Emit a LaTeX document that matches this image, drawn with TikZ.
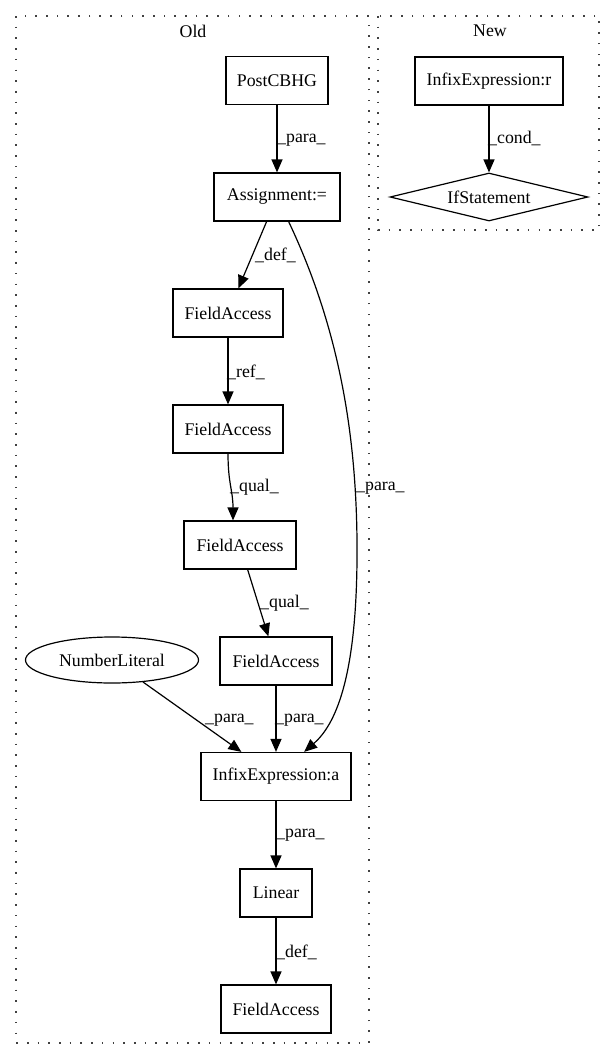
\documentclass[tikz,border=0pt]{standalone}
\usepackage{fontspec}
\setmainfont{Liberation Serif}
\usetikzlibrary{shapes.geometric,arrows.meta,calc}
\begin{document}
\begin{tikzpicture}[x=1pt,y=-1pt,
  every node/.style={font=\fontsize{17.8}{20}\selectfont},
  box/.style={draw, line width=1.2pt, inner sep=0pt, minimum height=48pt},
  ell/.style={draw, ellipse, line width=1.2pt, inner sep=0pt, minimum width=173pt, minimum height=46pt},
  dia/.style={draw, diamond, aspect=4.125, line width=1.2pt, inner sep=0pt, minimum width=198pt, minimum height=48pt},
  edge/.style={line width=1.2pt, -{Triangle[length=13pt,width=11pt]}},
  lbl/.style={anchor=west, inner sep=0pt},
  cluster/.style={line width=1.4pt, dash pattern=on 1.6pt off 9.1pt, black!75}]
\useasboundingbox (0,0) rectangle (615,1060);
% clusters
\draw[cluster] (16,16) rectangle (369,1043);
\draw[cluster] (378,16) rectangle (599,230);
\node (oldt) at (193,31) {Old};
\node (newt) at (490,31) {New};
% Old nodes
\node[box, minimum width=102pt] (post) at (277,80.5) {PostCBHG};
\node[box, minimum width=126pt] (asg) at (277,197) {Assignment:=};
\node[box, minimum width=110pt] (fa1) at (228,313) {FieldAccess};
\node[box, minimum width=110pt] (fa2) at (228,429) {FieldAccess};
\node[box, minimum width=112pt] (fa3) at (240,545) {FieldAccess};
\node[box, minimum width=112pt] (fa4) at (276,661) {FieldAccess};
\node[ell] (num) at (112,660) {NumberLiteral};
\node[box, minimum width=150pt] (inf) at (276,776.5) {InfixExpression:a};
\node[box, minimum width=72pt] (lin) at (276,893) {Linear};
\node[box, minimum width=110pt] (fa5) at (276,1009) {FieldAccess};
% New nodes
\node[box, minimum width=148pt] (infr) at (489,81) {InfixExpression:r};
\node[dia] (ifs) at (489,197) {IfStatement};
% edges
\draw[edge] (post) -- (asg);
\draw[edge] (asg) -- (fa1);
\draw[edge] (asg) .. controls (340,330) and (358,440) .. (357,560) .. controls (356,680) and (335,725) .. (inf);
\draw[edge] (fa1) -- (fa2);
\draw[edge] (fa2.south) .. controls ($(fa2.south)+(0,30)$) and ($(fa3.north)+(-7,-30)$) .. ($(fa3.north)+(-7,0)$);
\draw[edge] (fa3) -- (fa4);
\draw[edge] (num) -- (inf);
\draw[edge] (fa4) -- (inf);
\draw[edge] (inf) -- (lin);
\draw[edge] (lin) -- (fa5);
\draw[edge] (infr) -- (ifs);
% labels
\node[lbl] (l1) at (277,140) {\_para\_};
\node[lbl] (l2) at (255,255) {\_def\_};
\node[lbl] (l3) at (356,488) {\_para\_};
\node[lbl] (l4) at (227,372) {\_ref\_};
\node[lbl] (l5) at (230,487) {\_qual\_};
\node[lbl] (l6) at (260,603) {\_qual\_};
\node[lbl] (l7) at (205,720) {\_para\_};
\node[lbl] (l8) at (275,720) {\_para\_};
\node[lbl] (l9) at (276,835) {\_para\_};
\node[lbl] (l10) at (276,952) {\_def\_};
\node[lbl] (l11) at (488,138) {\_cond\_};
\end{tikzpicture}
\end{document}
